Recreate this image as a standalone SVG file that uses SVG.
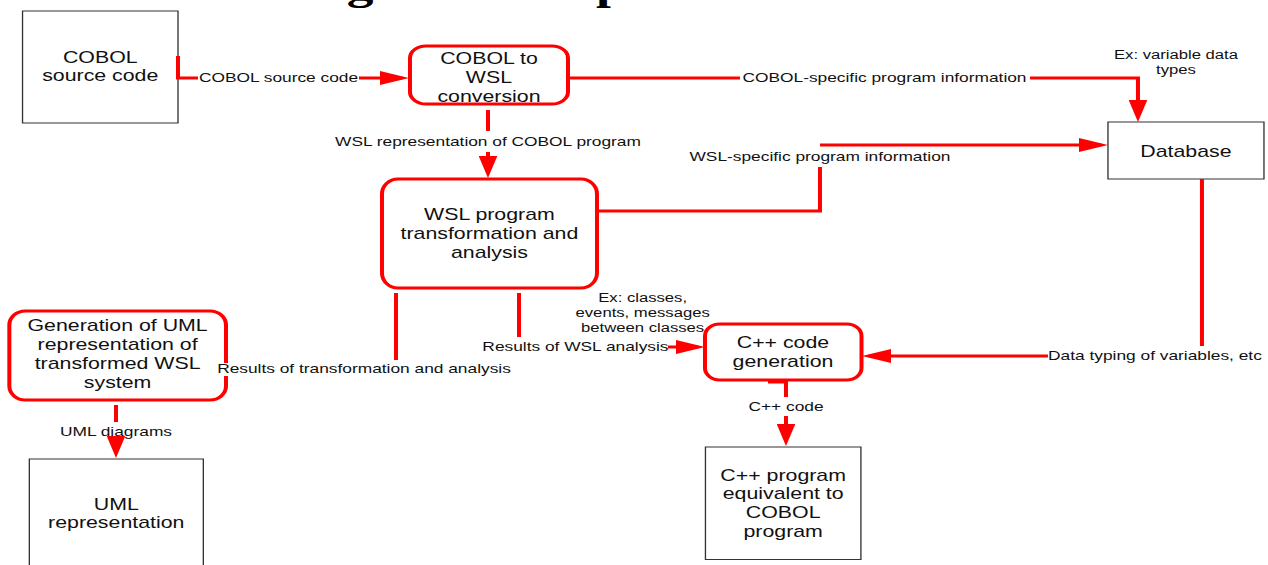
<svg xmlns="http://www.w3.org/2000/svg" width="1268" height="565" viewBox="0 0 1268 565">
  <style>
    .store { fill: #ffffff; stroke: #333333; stroke-width: 1; }
    .proc { fill: #ffffff; stroke: #ff0000; stroke-width: 3; }
    .node-text { font-family: "Liberation Sans", Arial, sans-serif; font-size: 16px; fill: #111111; text-anchor: middle; }
    .label { font-family: "Liberation Sans", Arial, sans-serif; font-size: 13px; fill: #111111; text-anchor: middle; }
    .note { font-family: "Liberation Sans", Arial, sans-serif; font-size: 12.5px; fill: #111111; text-anchor: middle; }
    .flow { fill: none; stroke: #ff0000; stroke-width: 3; }
    .title { font-family: "Liberation Serif", "Times New Roman", serif; font-size: 40px; font-weight: bold; fill: #000000; }
  </style>
  <defs>
    <marker id="arrow" markerUnits="userSpaceOnUse" viewBox="0 0 22 14" markerWidth="22" markerHeight="14" refX="17" refY="7" orient="auto">
      <path d="M0,0 L22,7 L0,14 Z" fill="#ff0000"/>
    </marker>
  </defs>
  <rect width="1268" height="565" fill="#ffffff"/>

  <!-- drawing is laid out on a narrower grid and widened horizontally -->
  <g id="canvas" transform="scale(1.3333 1)">

    <!-- lower edge of the heading, cut by the top of the page -->
    <g id="heading">
      <text class="title" x="270" y="-1.5" text-anchor="middle">g</text>
      <text class="title" x="447" y="-1.5">p</text>
    </g>

    <g id="cobol-source">
      <rect class="store" x="16.9" y="11" width="116.6" height="112"/>
      <text class="node-text" x="75.2" y="63">COBOL</text>
      <text class="node-text" x="75.2" y="81">source code</text>
    </g>

    <g id="cobol-to-wsl">
      <rect class="proc" x="307.5" y="46" width="118.5" height="58" rx="12" ry="12"/>
      <text class="node-text" x="366.75" y="64">COBOL to</text>
      <text class="node-text" x="366.75" y="83">WSL</text>
      <text class="node-text" x="366.75" y="102">conversion</text>
    </g>

    <g id="database">
      <rect class="store" x="831" y="122" width="117" height="57"/>
      <text class="node-text" x="889.5" y="157">Database</text>
    </g>

    <g id="wsl-transformation">
      <rect class="proc" x="286.5" y="179" width="161.25" height="109" rx="12" ry="15"/>
      <text class="node-text" x="367.1" y="220">WSL program</text>
      <text class="node-text" x="367.1" y="239">transformation and</text>
      <text class="node-text" x="367.1" y="258">analysis</text>
    </g>

    <g id="uml-generation">
      <rect class="proc" x="7" y="311" width="162.5" height="89" rx="12" ry="14"/>
      <text class="node-text" x="88.2" y="331">Generation of UML</text>
      <text class="node-text" x="88.2" y="350">representation of</text>
      <text class="node-text" x="88.2" y="369">transformed WSL</text>
      <text class="node-text" x="88.2" y="388">system</text>
    </g>

    <g id="cpp-generation">
      <rect class="proc" x="528.75" y="324" width="117.4" height="56" rx="11" ry="12"/>
      <text class="node-text" x="587.25" y="348">C++ code</text>
      <text class="node-text" x="587.25" y="367">generation</text>
    </g>

    <g id="uml-representation">
      <rect class="store" x="22" y="459" width="130.5" height="120"/>
      <text class="node-text" x="87.2" y="510">UML</text>
      <text class="node-text" x="87.2" y="528">representation</text>
    </g>

    <g id="cpp-program">
      <rect class="store" x="529.1" y="447" width="116.6" height="112.5"/>
      <text class="node-text" x="587.4" y="481">C++ program</text>
      <text class="node-text" x="587.4" y="499">equivalent to</text>
      <text class="node-text" x="587.4" y="518">COBOL</text>
      <text class="node-text" x="587.4" y="537">program</text>
    </g>

    <g id="connectors">
      <!-- COBOL source code -> conversion -->
      <path class="flow" d="M133.5,56 V78 H148.5"/>
      <text class="label" x="208.9" y="82">COBOL source code</text>
      <path class="flow" d="M269.25,78 H301.75" marker-end="url(#arrow)"/>

      <!-- conversion -> database -->
      <path class="flow" d="M426,78 H555"/>
      <text class="label" x="663.4" y="82">COBOL-specific program information</text>
      <path class="flow" d="M772.5,78 H853.5 V117" marker-end="url(#arrow)"/>
      <text class="note" x="882" y="59">Ex: variable data</text>
      <text class="note" x="882" y="74">types</text>

      <!-- conversion -> transformation -->
      <path class="flow" d="M366,110 V131"/>
      <text class="label" x="366" y="146">WSL representation of COBOL program</text>
      <path class="flow" d="M366,152 V173" marker-end="url(#arrow)"/>

      <!-- transformation -> database -->
      <path class="flow" d="M448.5,211 H615 V167"/>
      <text class="label" x="615" y="161">WSL-specific program information</text>
      <path class="flow" d="M615,145 H826" marker-end="url(#arrow)"/>

      <!-- transformation -> UML generation -->
      <path class="flow" d="M297,293 V360"/>
      <rect x="166" y="363" width="215" height="13" fill="#ffffff"/>
      <text class="label" x="273" y="373">Results of transformation and analysis</text>

      <!-- transformation -> C++ generation -->
      <path class="flow" d="M389.25,293 V337"/>
      <text class="label" x="431.6" y="351">Results of WSL analysis</text>
      <path class="flow" d="M501,347 H523.75" marker-end="url(#arrow)"/>
      <text class="note" x="482" y="302">Ex: classes,</text>
      <text class="note" x="482" y="317">events, messages</text>
      <text class="note" x="482" y="332">between classes</text>

      <!-- database -> C++ generation -->
      <path class="flow" d="M901.5,179 V346"/>
      <text class="label" x="866.25" y="360">Data typing of variables, etc</text>
      <path class="flow" d="M786,356 H651.5" marker-end="url(#arrow)"/>

      <!-- C++ generation -> C++ program -->
      <path class="flow" d="M576,382 H589.5 V397"/>
      <text class="label" x="589.5" y="411">C++ code</text>
      <path class="flow" d="M589.5,416 V441" marker-end="url(#arrow)"/>

      <!-- UML generation -> UML representation -->
      <path class="flow" d="M87,405 V422"/>
      <text class="label" x="87" y="436">UML diagrams</text>
      <path class="flow" d="M87,441 V453" marker-end="url(#arrow)"/>
    </g>
  </g>
</svg>
